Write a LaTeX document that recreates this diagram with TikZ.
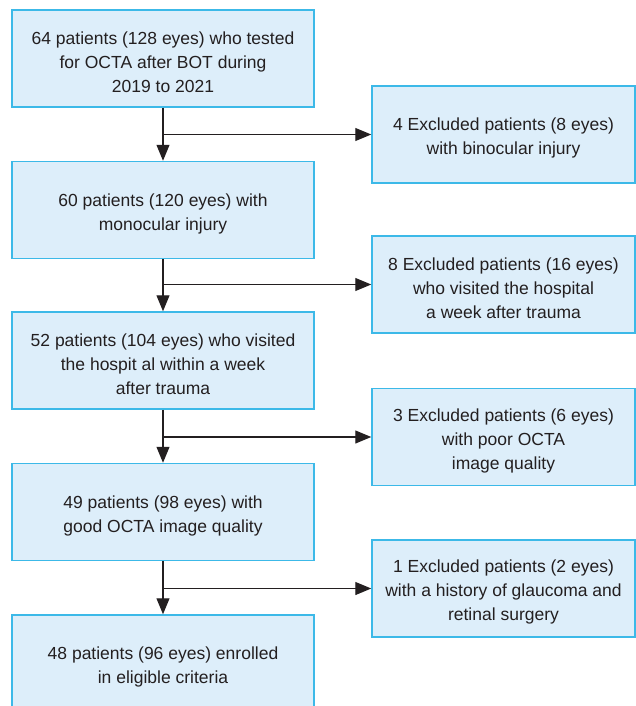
\documentclass[tikz,border=0pt]{standalone}
\usepackage{fontspec}
\setmainfont{Liberation Sans}
\usetikzlibrary{arrows.meta}
\definecolor{boxfill}{HTML}{DDEEFA}
\definecolor{boxline}{HTML}{3CB9E8}
\definecolor{ink}{HTML}{231F20}
\begin{document}
\begin{tikzpicture}[x=1pt,y=-1pt,
  flowbox/.style={draw=boxline, fill=boxfill, line width=1.5pt, inner sep=0pt},
  txt/.style={align=center, text=ink, inner sep=0pt, yshift=-3.5pt,
    font=\fontsize{17.5}{24}\selectfont},
  leftbox/.style={flowbox, minimum width=302pt, minimum height=97pt},
  rightbox/.style={flowbox, minimum width=263pt, minimum height=97pt},
  conn/.style={draw=ink, line width=1.2pt},
  arr/.style={conn, -{Triangle[length=16pt,width=13pt]}}]
\useasboundingbox (0,0) rectangle (636,706);
\fill[white] (0,0) rectangle (636,706);
\clip (0,0) rectangle (636,706);
\node[leftbox, label={[txt]center:{64 patients (128 eyes) who tested\\for OCTA after BOT during\\2019 to 2021}}] (b1) at (163,58.5) {};
\node[leftbox, label={[txt]center:{60 patients (120 eyes) with\\monocular injury}}] (b2) at (163,210) {};
\node[leftbox, label={[txt]center:{52 patients (104 eyes) who visited\\the hospit al within a week\\after trauma}}] (b3) at (163,360.5) {};
\node[leftbox, label={[txt]center:{49 patients (98 eyes) with\\good OCTA image quality}}] (b4) at (163,512) {};
\node[leftbox, label={[txt]center:{48 patients (96 eyes) enrolled\\in eligible criteria}}] (b5) at (163,663.5) {};
\node[rightbox, label={[txt]center:{4 Excluded patients (8 eyes)\\with binocular injury}}] (r1) at (503.5,134.5) {};
\node[rightbox, label={[txt]center:{8 Excluded patients (16 eyes)\\who visited the hospital\\a week after trauma}}] (r2) at (503.5,284.5) {};
\node[rightbox, label={[txt]center:{3 Excluded patients (6 eyes)\\with poor OCTA\\image quality}}] (r3) at (503.5,437) {};
\node[rightbox, label={[txt]center:{1 Excluded patients (2 eyes)\\with a history of glaucoma and\\retinal surgery}}] (r4) at (503.5,588.5) {};
\foreach \a/\b/\r in {b1/b2/r1, b2/b3/r2, b3/b4/r3, b4/b5/r4}{
  \draw[arr] (\a.south) -- (\b.north);
  \coordinate (j\r) at (\a.south |- \r.west);
  \draw[arr] (j\r) -- (\r.west);
}
\end{tikzpicture}
\end{document}
